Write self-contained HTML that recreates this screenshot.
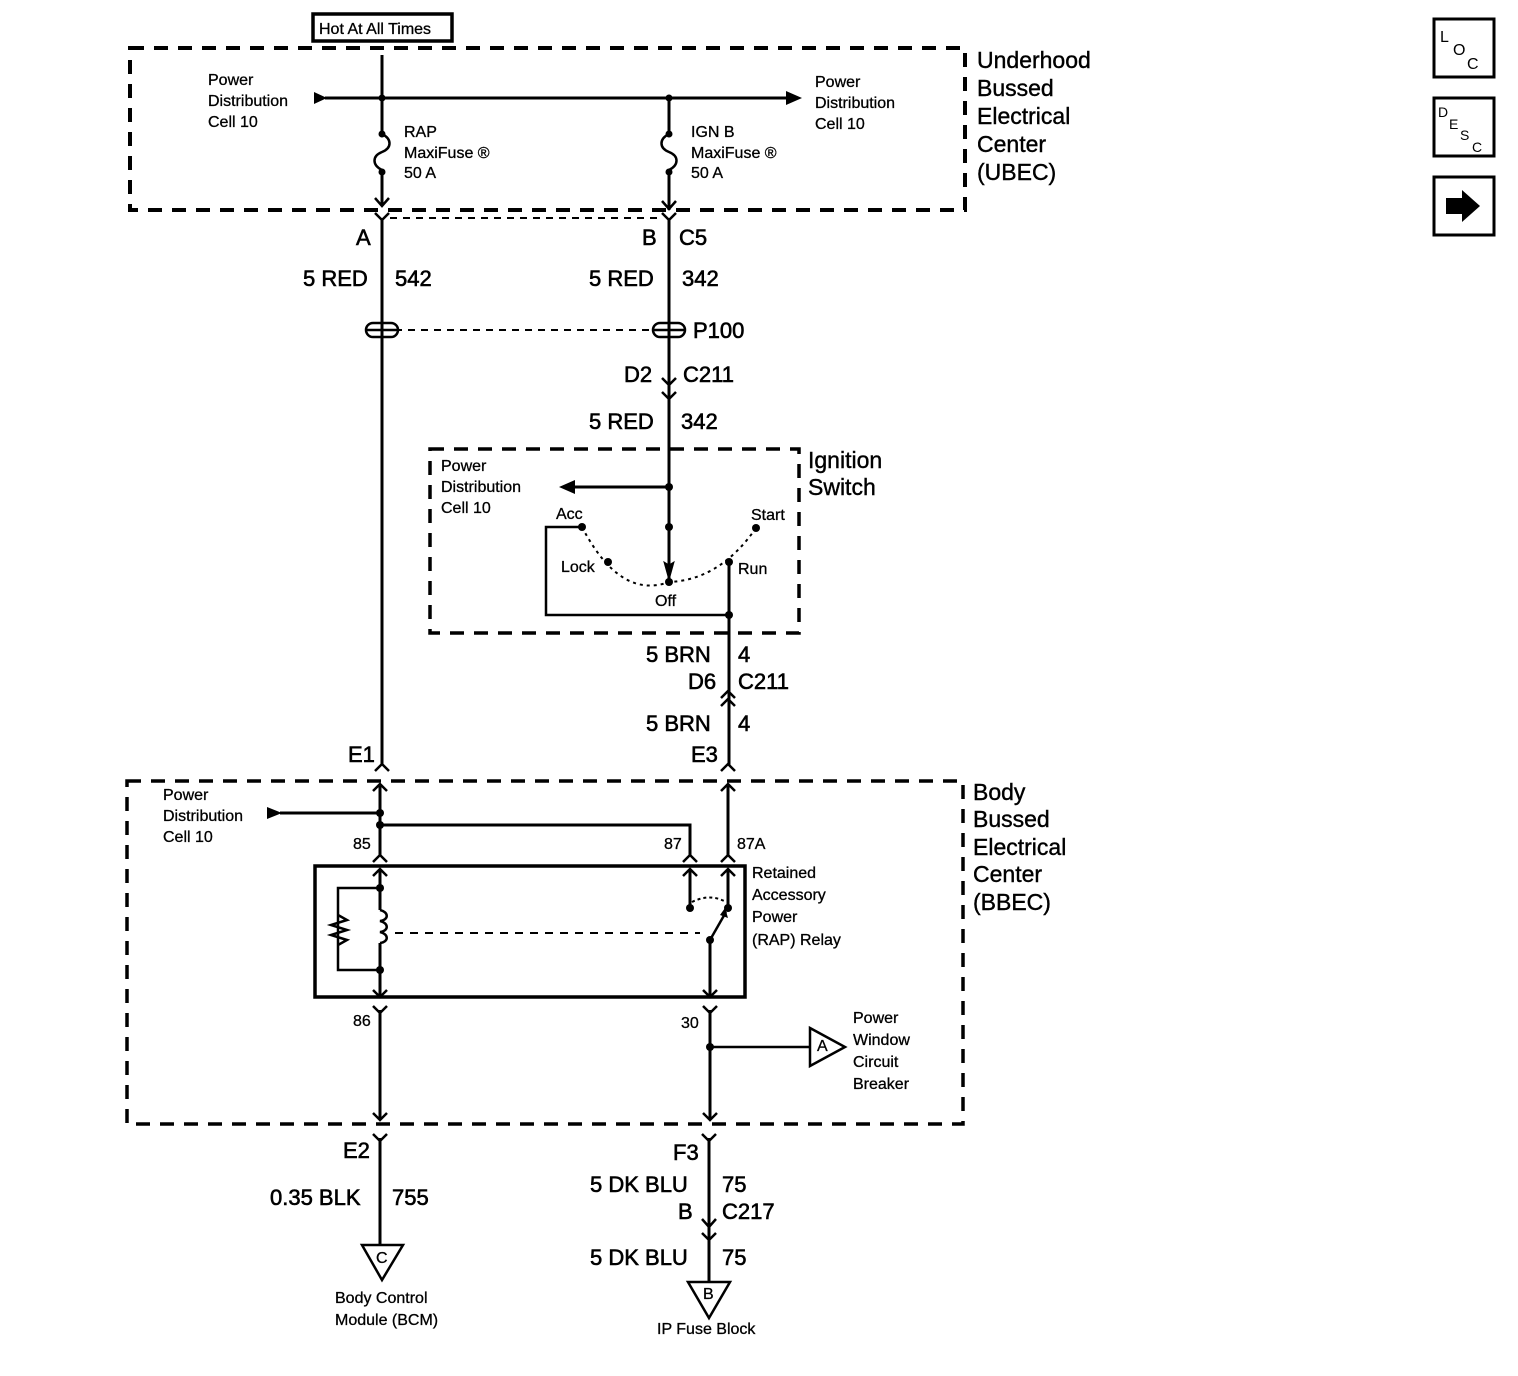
<!DOCTYPE html>
<html><head><meta charset="utf-8"><style>
html,body{margin:0;padding:0;background:#fff;}
svg{display:block;font-family:"Liberation Sans",Arial,sans-serif;}
.s{font-size:16px;stroke:#000;stroke-width:0.3;}
.m{font-size:22px;stroke:#000;stroke-width:0.6;}
.l{font-size:23px;stroke:#000;stroke-width:0.4;}
</style></head><body>
<svg width="1518" height="1376" viewBox="0 0 1518 1376" xmlns="http://www.w3.org/2000/svg">
<g fill="none" stroke="#000">
<rect x="130" y="48" width="835" height="162" stroke-width="4" stroke-dasharray="14,10"/>
<rect x="430" y="449" width="369" height="184" stroke-width="3.5" stroke-dasharray="14,10"/>
<rect x="127" y="781" width="836" height="343" stroke-width="3.5" stroke-dasharray="14,10"/>
<rect x="313" y="14" width="139" height="27" stroke-width="3.5"/>
<line x1="325" y1="98" x2="790" y2="98" stroke-width="3"/>
<line x1="382" y1="55" x2="382" y2="134" stroke-width="3"/>
<path d="M382,134 c10,5 10,14 0,18 c-10,4 -10,13 0,18" stroke-width="2.5"/>
<line x1="382" y1="172" x2="382" y2="205" stroke-width="3"/>
<path d="M375,198 L382,206 L389,198" stroke-width="2.5"/>
<path d="M375,213 L382,220 L389,213" stroke-width="2.5"/>
<line x1="382" y1="218" x2="382" y2="765" stroke-width="3"/>
<line x1="669" y1="98" x2="669" y2="134" stroke-width="3"/>
<path d="M669,134 c-10,5 -10,14 0,18 c10,4 10,13 0,18" stroke-width="2.5"/>
<line x1="669" y1="172" x2="669" y2="210" stroke-width="3"/>
<path d="M662,201 L669,209 L676,201" stroke-width="2.5"/>
<path d="M662,213 L669,220 L676,213" stroke-width="2.5"/>
<line x1="669" y1="218" x2="669" y2="580" stroke-width="3"/>
<line x1="390" y1="218" x2="662" y2="218" stroke-width="2" stroke-dasharray="7,6"/>
<line x1="395" y1="330" x2="655" y2="330" stroke-width="2" stroke-dasharray="7,6"/>
<g stroke-width="2.5">
<rect x="366" y="323" width="32" height="14" rx="7"/><line x1="366" y1="330" x2="398" y2="330"/>
<rect x="653" y="323" width="32" height="14" rx="7"/><line x1="653" y1="330" x2="685" y2="330"/>
</g>
<path d="M662,378 L669,385 L676,378" stroke-width="2.5"/>
<path d="M662,392 L669,399 L676,392" stroke-width="2.5"/>
<line x1="575" y1="487" x2="669" y2="487" stroke-width="3"/>
<path d="M669,565 L664,562 L669,580 L674,562 Z" fill="#000" stroke-width="1"/>
<path d="M582,527 Q620,600 669,582 Q720,580 756,528" stroke-width="2" stroke-dasharray="3,4"/>
<polyline points="582,527 546,527 546,615 729,615" stroke-width="2.5"/>
<line x1="729" y1="562" x2="729" y2="765" stroke-width="3"/>
<path d="M721,698 L728,691 L735,698" stroke-width="2.5"/>
<path d="M721,706 L728,699 L735,706" stroke-width="2.5"/>
<path d="M721,771 L728,764 L735,771" stroke-width="2.5"/>
<path d="M721,791 L728,784 L735,791" stroke-width="2.5"/>
<line x1="728" y1="786" x2="728" y2="855" stroke-width="3"/>
<path d="M375,771 L382,764 L389,771" stroke-width="2.5"/>
<path d="M373,791 L380,784 L387,791" stroke-width="2.5"/>
<line x1="380" y1="786" x2="380" y2="855" stroke-width="3"/>
<line x1="280" y1="813" x2="380" y2="813" stroke-width="3"/>
<polyline points="380,825 690,825 690,855" stroke-width="3"/>
<path d="M373,862 L380,855 L387,862" stroke-width="2.5"/>
<path d="M683,862 L690,855 L697,862" stroke-width="2.5"/>
<path d="M721,862 L728,855 L735,862" stroke-width="2.5"/>
<rect x="315" y="866" width="430" height="131" stroke-width="3.5"/>
<path d="M373,876 L380,869 L387,876" stroke-width="2.5"/>
<path d="M683,876 L690,869 L697,876" stroke-width="2.5"/>
<path d="M721,876 L728,869 L735,876" stroke-width="2.5"/>
<line x1="380" y1="870" x2="380" y2="910" stroke-width="3"/>
<path d="M380,910 c9,2 9,10 0,11 c9,2 9,10 0,11 c9,2 9,10 0,11" stroke-width="2.5"/>
<line x1="380" y1="943" x2="380" y2="997" stroke-width="3"/>
<polyline points="380,888 338,888 338,970 380,970" stroke-width="2.5"/>
<polyline points="338,915 347,920 331,925 347,930 331,935 347,940 338,945" stroke-width="2.5"/>
<line x1="395" y1="933" x2="700" y2="933" stroke-width="2" stroke-dasharray="8,7"/>
<path d="M373,990 L380,997 L387,990" stroke-width="2.5"/>
<line x1="690" y1="870" x2="690" y2="908" stroke-width="3"/>
<line x1="728" y1="870" x2="728" y2="908" stroke-width="3"/>
<path d="M692,902 Q710,893 726,902" stroke-width="2" stroke-dasharray="3,3"/>
<line x1="710" y1="940" x2="726" y2="912" stroke-width="2.5"/>
<line x1="710" y1="940" x2="710" y2="997" stroke-width="3"/>
<path d="M703,990 L710,997 L717,990" stroke-width="2.5"/>
<path d="M373,1006 L380,1013 L387,1006" stroke-width="2.5"/>
<line x1="380" y1="1010" x2="380" y2="1120" stroke-width="3"/>
<path d="M373,1113 L380,1120 L387,1113" stroke-width="2.5"/>
<path d="M703,1006 L710,1013 L717,1006" stroke-width="2.5"/>
<line x1="710" y1="1010" x2="710" y2="1120" stroke-width="3"/>
<path d="M703,1113 L710,1120 L717,1113" stroke-width="2.5"/>
<line x1="710" y1="1047" x2="810" y2="1047" stroke-width="2.5"/>
<polygon points="810,1028 810,1066 845,1047" stroke-width="2.5"/>
<path d="M373,1134 L380,1141 L387,1134" stroke-width="2.5"/>
<line x1="380" y1="1138" x2="380" y2="1245" stroke-width="3"/>
<polygon points="362,1245 403,1245 382,1280" stroke-width="2.5"/>
<path d="M702,1134 L709,1141 L716,1134" stroke-width="2.5"/>
<line x1="709" y1="1138" x2="709" y2="1282" stroke-width="3"/>
<path d="M702,1219 L709,1227 L716,1219" stroke-width="2.5"/>
<path d="M702,1233 L709,1240 L716,1233" stroke-width="2.5"/>
<polygon points="688,1282 730,1282 709,1318" stroke-width="2.5"/>
<rect x="1434" y="19" width="60" height="58" stroke-width="3"/>
<rect x="1434" y="98" width="60" height="58" stroke-width="3"/>
<rect x="1434" y="177" width="60" height="58" stroke-width="3"/>
</g>
<g fill="#000">
<polygon points="314,92 314,104 327,98"/>
<polygon points="786,91 786,105 802,98"/>
<polygon points="575,480 575,494 559,487"/>
<polygon points="267,807 267,819 282,813"/>
<polygon points="725,908 728,918 720,915"/>
<polygon points="1446,198 1462,198 1462,190 1480,206 1462,222 1462,214 1446,214"/>
</g>
<g fill="#000">
<circle cx="382" cy="98" r="3.5"/><circle cx="669" cy="98" r="3.5"/>
<circle cx="382" cy="134" r="3.5"/><circle cx="382" cy="172" r="3.5"/>
<circle cx="669" cy="134" r="3.5"/><circle cx="669" cy="172" r="3.5"/>
<circle cx="669" cy="487" r="4"/><circle cx="669" cy="527" r="4"/>
<circle cx="582" cy="527" r="4"/><circle cx="608" cy="562" r="4"/>
<circle cx="669" cy="582" r="4"/><circle cx="729" cy="562" r="4"/>
<circle cx="756" cy="528" r="4"/><circle cx="729" cy="615" r="4"/>
<circle cx="380" cy="813" r="4"/><circle cx="380" cy="825" r="4"/>
<circle cx="380" cy="888" r="4"/><circle cx="380" cy="970" r="4"/>
<circle cx="690" cy="908" r="4"/><circle cx="728" cy="908" r="4"/>
<circle cx="710" cy="940" r="4"/><circle cx="710" cy="1047" r="4"/>
</g>
<g fill="#000">
<text x="319" y="34" class="s" font-size="17">Hot At All Times</text>
<text x="208" y="85" class="s">Power</text><text x="208" y="106" class="s">Distribution</text><text x="208" y="127" class="s">Cell 10</text>
<text x="815" y="87" class="s">Power</text><text x="815" y="108" class="s">Distribution</text><text x="815" y="129" class="s">Cell 10</text>
<text x="404" y="137" class="s">RAP</text><text x="404" y="158" class="s">MaxiFuse ®</text><text x="404" y="178" class="s">50 A</text>
<text x="691" y="137" class="s">IGN B</text><text x="691" y="158" class="s">MaxiFuse ®</text><text x="691" y="178" class="s">50 A</text>
<text x="977" y="68" class="l">Underhood</text><text x="977" y="96" class="l">Bussed</text><text x="977" y="124" class="l">Electrical</text><text x="977" y="152" class="l">Center</text><text x="977" y="180" class="l">(UBEC)</text>
<text x="356" y="245" class="m">A</text>
<text x="642" y="245" class="m">B</text><text x="679" y="245" class="m">C5</text>
<text x="303" y="286" class="m">5 RED</text><text x="395" y="286" class="m">542</text>
<text x="589" y="286" class="m">5 RED</text><text x="682" y="286" class="m">342</text>
<text x="693" y="338" class="m">P100</text>
<text x="624" y="382" class="m">D2</text><text x="683" y="382" class="m">C211</text>
<text x="589" y="429" class="m">5 RED</text><text x="681" y="429" class="m">342</text>
<text x="808" y="468" class="l">Ignition</text><text x="808" y="495" class="l">Switch</text>
<text x="441" y="471" class="s">Power</text><text x="441" y="492" class="s">Distribution</text><text x="441" y="513" class="s">Cell 10</text>
<text x="556" y="519" class="s">Acc</text><text x="751" y="520" class="s">Start</text>
<text x="561" y="572" class="s">Lock</text><text x="738" y="574" class="s">Run</text>
<text x="655" y="606" class="s">Off</text>
<text x="646" y="662" class="m">5 BRN</text><text x="738" y="662" class="m">4</text>
<text x="688" y="689" class="m">D6</text><text x="738" y="689" class="m">C211</text>
<text x="646" y="731" class="m">5 BRN</text><text x="738" y="731" class="m">4</text>
<text x="348" y="762" class="m">E1</text><text x="691" y="762" class="m">E3</text>
<text x="973" y="800" class="l">Body</text><text x="973" y="827" class="l">Bussed</text><text x="973" y="855" class="l">Electrical</text><text x="973" y="882" class="l">Center</text><text x="973" y="910" class="l">(BBEC)</text>
<text x="163" y="800" class="s">Power</text><text x="163" y="821" class="s">Distribution</text><text x="163" y="842" class="s">Cell 10</text>
<text x="353" y="849" class="s">85</text><text x="664" y="849" class="s">87</text><text x="737" y="849" class="s">87A</text>
<text x="752" y="878" class="s">Retained</text><text x="752" y="900" class="s">Accessory</text><text x="752" y="922" class="s">Power</text><text x="752" y="945" class="s">(RAP) Relay</text>
<text x="353" y="1026" class="s">86</text><text x="681" y="1028" class="s">30</text>
<text x="817" y="1051" class="s" font-size="14">A</text>
<text x="853" y="1023" class="s">Power</text><text x="853" y="1045" class="s">Window</text><text x="853" y="1067" class="s">Circuit</text><text x="853" y="1089" class="s">Breaker</text>
<text x="343" y="1158" class="m">E2</text><text x="673" y="1160" class="m">F3</text>
<text x="270" y="1205" class="m">0.35 BLK</text><text x="392" y="1205" class="m">755</text>
<text x="590" y="1192" class="m">5 DK BLU</text><text x="722" y="1192" class="m">75</text>
<text x="678" y="1219" class="m">B</text><text x="722" y="1219" class="m">C217</text>
<text x="590" y="1265" class="m">5 DK BLU</text><text x="722" y="1265" class="m">75</text>
<text x="376" y="1263" class="s" font-size="14">C</text>
<text x="703" y="1299" class="s" font-size="14">B</text>
<text x="335" y="1303" class="s">Body Control</text><text x="335" y="1325" class="s">Module (BCM)</text>
<text x="657" y="1334" class="s">IP Fuse Block</text>
<text x="1440" y="42" font-size="16">L</text><text x="1453" y="55" font-size="16">O</text><text x="1467" y="69" font-size="16">C</text>
<text x="1438" y="117" font-size="14">D</text><text x="1449" y="129" font-size="14">E</text><text x="1460" y="140" font-size="14">S</text><text x="1472" y="152" font-size="14">C</text>
</g>
</svg>
</body></html>
